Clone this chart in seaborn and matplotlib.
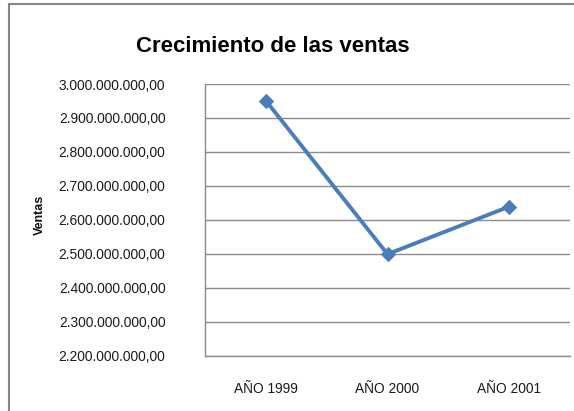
import matplotlib
matplotlib.use("Agg")
import matplotlib.pyplot as plt
import matplotlib.ticker as mticker
from matplotlib.patches import Rectangle
import pandas as pd
import seaborn as sns

YEARS = ["AÑO 1999", "AÑO 2000", "AÑO 2001"]
VENTAS = [2.951e9, 2.499e9, 2.639e9]
Y_TICKS = [2.2e9, 2.3e9, 2.4e9, 2.5e9, 2.6e9, 2.7e9, 2.8e9, 2.9e9, 3.0e9]

sns.set_theme(style="white")
plt.rcParams["font.family"] = ["Liberation Sans", "DejaVu Sans"]

df = pd.DataFrame({"year": YEARS, "ventas": VENTAS})


def es_fmt(v, _pos):
    # 3000000000 -> 3.000.000.000,00
    s = f"{v:,.2f}"
    return s.replace(",", "X").replace(".", ",").replace("X", ".")


fig = plt.figure(figsize=(5.74, 4.11), dpi=100)
ax = fig.add_axes([205 / 574, 1 - 355.7 / 411, 365 / 574, 271.7 / 411])

sns.lineplot(data=df, x="year", y="ventas", ax=ax, color="#4a7ebb",
             linewidth=2.8, marker="D", markersize=7.5, markeredgecolor="#4a7ebb")

ax.set_xlim(-0.5, 2.5)
ax.set_ylim(2.2e9, 3.0e9)
ax.set_yticks(Y_TICKS)
ax.yaxis.set_major_formatter(mticker.FuncFormatter(es_fmt))
ax.grid(axis="y", color="#8c8c8c", linewidth=1)
ax.set_axisbelow(True)
for side in ["top", "right"]:
    ax.spines[side].set_visible(False)
for side in ["left", "bottom"]:
    ax.spines[side].set_color("#8c8c8c")
    ax.spines[side].set_linewidth(1)
ax.tick_params(axis="y", length=0, pad=28.5, labelsize=9.9, labelcolor="#1a1a1a")
ax.tick_params(axis="x", length=0, pad=19, labelsize=9.9, labelcolor="#1a1a1a")
ax.set_xlabel("")
ax.set_ylabel("")

fig.text(40 / 574, 1 - 215 / 411, "Ventas", rotation=90, ha="center", va="center",
         fontsize=9, fontweight="bold", color="#111111")
fig.text(273 / 574, 1 - 46 / 411, "Crecimiento de las ventas", ha="center",
         va="center", fontsize=16, fontweight="bold", color="#000000")

# outer chart border (right and bottom run off the image)
fig.patches.append(Rectangle((9 / 574, -0.05), 1.1, 1 - 4 / 411 + 0.05,
                             transform=fig.transFigure, fill=False,
                             edgecolor="#868686", linewidth=1.5))

fig.savefig("out.png", dpi=100, facecolor="white")
